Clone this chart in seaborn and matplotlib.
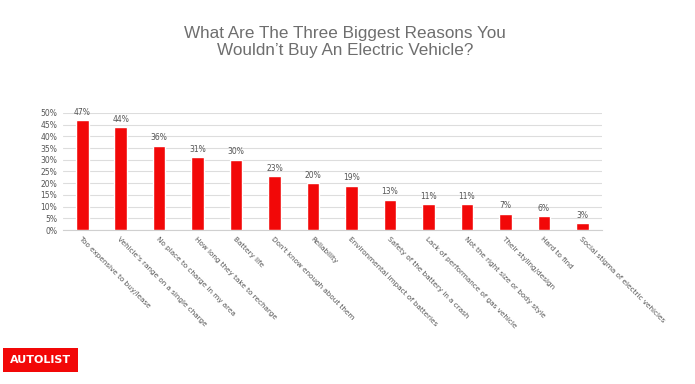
import pandas as pd
import matplotlib.pyplot as plt
import seaborn as sns

reasons = ['Too expensive to buy/lease', "Vehicle's range on a single charge",
           'No place to charge in my area', 'How long they take to recharge',
           'Battery life', "Don't know enough about them", 'Reliability',
           'Environmental impact of batteries', 'Safety of the battery in a crash',
           'Lack of performance of gas vehicle', 'Not the right size or body style',
           'Their styling/design', 'Hard to find', 'Social stigma of electric vehicles']
shares = [47, 44, 36, 31, 30, 23, 20, 19, 13, 11, 11, 7, 6, 3]
yticks = [0, 5, 10, 15, 20, 25, 30, 35, 40, 45, 50]

df = pd.DataFrame({'reason': reasons, 'share': shares})

sns.set_style('white')
plt.rcParams['font.family'] = ['DejaVu Sans']

fig = plt.figure(figsize=(6.95, 3.84), dpi=100)
ax = fig.add_axes([0.0906, 0.401, 0.775, 0.305])

sns.barplot(data=df, x='reason', y='share', color='#f20808', width=0.33,
            saturation=1, ax=ax, zorder=3)

for i, v in enumerate(shares):
    ax.text(i, v + 1.4, f'{v}%', ha='center', va='bottom', fontsize=5.5,
            color='#555555', clip_on=False)

ax.set_ylim(0, 50)
ax.set_xlim(-0.5, len(reasons) - 0.5)
ax.set_yticks(yticks)
ax.set_yticklabels([f'{t}%' for t in yticks], fontsize=5.5, color='#555555')
ax.set_xticks(range(len(reasons)))
ax.set_xticklabels(reasons, rotation=-45, ha='left', rotation_mode='anchor',
                   fontsize=5.2, color='#555555')
ax.tick_params(axis='both', length=0, pad=4)
ax.yaxis.grid(True, color='#dddddd', linewidth=0.8, zorder=0)
ax.set_xlabel('')
ax.set_ylabel('')
sns.despine(ax=ax, left=True)
ax.spines['bottom'].set_color('#d0d0d0')

fig.text(0.497, 0.89, "What Are The Three Biggest Reasons You\nWouldn\u2019t Buy An Electric Vehicle?",
         ha='center', va='center', fontsize=12.3, color='#6e6e6e',
         family=['Liberation Sans'], linespacing=1.15)

fig.text(0.058, 0.0625, 'AUTOLIST', ha='center', va='center', fontsize=8,
         fontweight='bold', color='white',
         bbox=dict(boxstyle='square,pad=0.6', facecolor='#f20808', edgecolor='none'))

fig.savefig('out.png', dpi=100)
